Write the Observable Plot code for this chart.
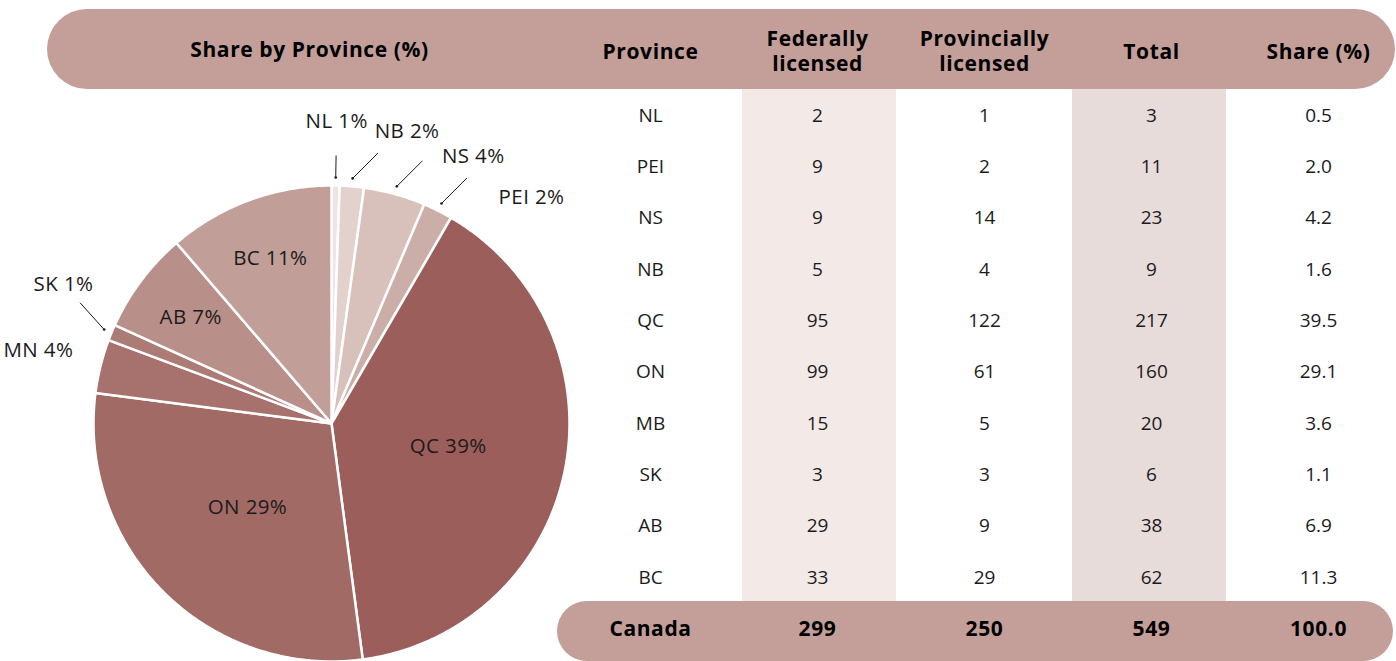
<!DOCTYPE html>
<html>
<head>
<meta charset="utf-8">
<script src="https://cdn.jsdelivr.net/npm/d3@7"></script>
<script src="https://cdn.jsdelivr.net/npm/@observablehq/plot@0.6"></script>
<style>
  html, body { margin: 0; padding: 0; background: #fff; }
  #chart svg { display: block; }
</style>
</head>
<body>
<div id="chart"></div>
<script>
// ---------------- data ----------------
const provinces   = ["NL", "PEI", "NS", "NB", "QC", "ON", "MB", "SK", "AB", "BC"];
const federal     = [2, 9, 9, 5, 95, 99, 15, 3, 29, 33];
const provincial  = [1, 2, 14, 4, 122, 61, 5, 3, 9, 29];
const totals      = [3, 11, 23, 9, 217, 160, 20, 6, 38, 62];
const shares      = ["0.5", "2.0", "4.2", "1.6", "39.5", "29.1", "3.6", "1.1", "6.9", "11.3"];
const canadaRow   = ["Canada", "299", "250", "549", "100.0"];
const columnHeads = ["Province", "Federally\nlicensed", "Provincially\nlicensed", "Total", "Share (%)"];
const pieTitle    = "Share by Province (%)";

// pie slices, clockwise from 12 o'clock
const pieKeys   = ["NL", "NB", "NS", "PEI", "QC", "ON", "MB", "SK", "AB", "BC"];
const pieValues = [3, 9, 23, 11, 217, 160, 20, 6, 38, 62];
const pieLabels = ["NL 1%", "NB 2%", "NS 4%", "PEI 2%", "QC 39%", "ON 29%", "MN 4%", "SK 1%", "AB 7%", "BC 11%"];
const pieColors = ["#efe4e2", "#e3d1cd", "#d7c1ba", "#ccaea9", "#9c5e5b", "#a26a65", "#a7726d", "#ad7b76", "#b98f89", "#c29e98"];

// ---------------- layout ----------------
const W = 1396, H = 661;
const font = "'Open Sans', sans-serif";
const band = "#c49f99";
const ink = "#1b1b1b";
const cx = 331, cy = 423, R = 238;
const deg = Math.PI / 180;
const pt = (a, r) => [cx + r * Math.sin(a), cy - r * Math.cos(a)];

const slices = pieKeys.map((k, i) => ({key: k, value: pieValues[i], label: pieLabels[i], color: pieColors[i]}));
const sum = d3.sum(pieValues);
const arcs = d3.pie().sort(null).value(d => d.value)(slices);

// slice polygons
const polys = [];
for (const a of arcs) {
  polys.push({key: a.data.key, color: a.data.color, x: cx, y: cy});
  const n = Math.max(2, Math.ceil((a.endAngle - a.startAngle) / (0.4 * deg)));
  for (let j = 0; j <= n; j++) {
    const t = a.startAngle + (a.endAngle - a.startAngle) * j / n;
    const [x, y] = pt(t, R);
    polys.push({key: a.data.key, color: a.data.color, x, y});
  }
  polys.push({key: a.data.key, color: a.data.color, x: cx, y: cy});
}

// labels
const inside = [], outside = [], leaders = [];
let prevAngle = -Infinity;
for (const a of arcs) {
  const mid = (a.startAngle + a.endAngle) / 2;
  const frac = a.data.value / sum;
  if (frac >= 0.05) {
    const r = frac > 0.2 ? 0.5 * R : 0.74 * R;
    const [x, y] = pt(mid, r);
    inside.push({x, y, text: a.data.label});
  } else {
    const la = Math.max(mid, prevAngle + 13.5 * deg);
    prevAngle = la;
    const [tx, ty] = pt(la, R + 64);
    outside.push({x: tx, y: ty, text: a.data.label});
    if (la - mid > 2 * deg || frac < 0.01) {
      const [ax, ay] = pt(mid, R + 8);
      // direction toward the label, kept within 45 degrees of vertical
      let dir = Math.atan2(tx - ax, -(ty - ay));
      dir = Math.max(-45 * deg, Math.min(45 * deg, dir));
      const L = frac < 0.01 ? 22 : 36;
      leaders.push({x1: ax, y1: ay, x2: ax + Math.sin(dir) * L, y2: ay - Math.cos(dir) * L});
    }
  }
}

// table
const colX = d3.scalePoint().domain(columnHeads).range([650, 1318]);
const rowY = d3.scalePoint().domain(provinces).range([115, 577]);
const cells = [];
provinces.forEach((p, i) => {
  const vals = [p, federal[i], provincial[i], totals[i], shares[i]];
  vals.forEach((v, j) => cells.push({x: colX(columnHeads[j]), y: rowY(p), text: String(v)}));
});
const heads = columnHeads.map(c => ({x: colX(c), y: 50, text: c}));
const foot = canadaRow.map((v, j) => ({x: colX(columnHeads[j]), y: 629, text: v}));
const shaded = [
  {x1: colX(columnHeads[1]) - 75, x2: colX(columnHeads[1]) + 79, fill: "#f3eae8"},
  {x1: colX(columnHeads[3]) - 79, x2: colX(columnHeads[3]) + 75, fill: "#e8dcda"}
];

const chart = Plot.plot({
  width: W, height: H,
  margin: 0,
  x: {type: "identity", axis: null},
  y: {type: "identity", axis: null},
  style: {fontFamily: font, background: "#fff"},
  marks: [
    Plot.rect(shaded, {x1: "x1", x2: "x2", y1: 88, y2: 602, fill: "fill"}),
    Plot.rect([0], {x1: 47, x2: 1395, y1: 9, y2: 89, rx: 40, fill: band}),
    Plot.rect([0], {x1: 557, x2: 1393, y1: 601, y2: 661, rx: 30, fill: band}),
    Plot.line(polys, {x: "x", y: "y", z: "key", fill: "color", stroke: "#fff", strokeWidth: 2.5, strokeLinejoin: "round", curve: "linear"}),
    Plot.link(leaders, {x1: "x1", y1: "y1", x2: "x2", y2: "y2", stroke: ink, strokeWidth: 1}),
    Plot.dot(leaders, {x: "x1", y: "y1", r: 1.3, fill: ink, stroke: null}),
    Plot.text(inside, {x: "x", y: "y", text: "text", fontSize: 20.5, fill: ink, fontFamily: font}),
    Plot.text(outside, {x: "x", y: "y", text: "text", fontSize: 20.5, fill: ink, fontFamily: font}),
    Plot.text([pieTitle], {x: 309, y: 50, text: d => d, fontSize: 21, fontWeight: "bold", fill: "#000", fontFamily: font}),
    Plot.text(heads, {x: "x", y: "y", text: "text", fontSize: 21, fontWeight: "bold", fill: "#000", lineHeight: 1.2, fontFamily: font}),
    Plot.text(cells, {x: "x", y: "y", text: "text", fontSize: 19, fill: ink, fontFamily: font}),
    Plot.text(foot, {x: "x", y: "y", text: "text", fontSize: 21, fontWeight: "bold", fill: "#000", fontFamily: font})
  ]
});
// wider tracking to approach the reference's geometric typeface
d3.select(chart).selectAll("g[font-weight=bold]").attr("letter-spacing", "0.6px");
d3.select(chart).selectAll("g[font-size='20.5']").attr("letter-spacing", "0.4px");
document.getElementById("chart").appendChild(chart);
</script>
</body>
</html>
